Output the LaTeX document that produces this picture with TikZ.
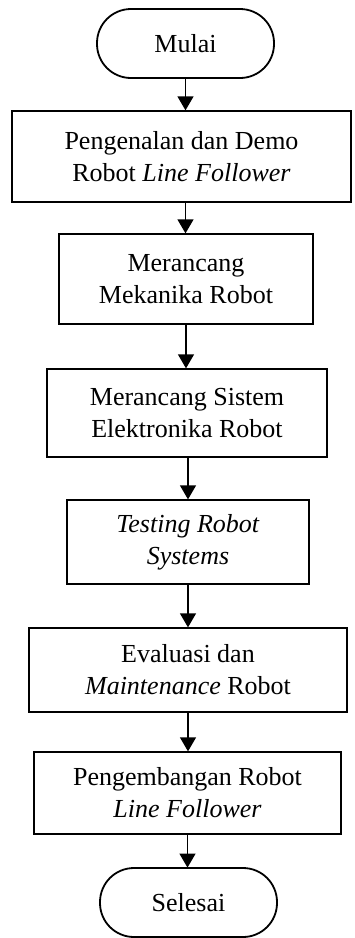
\documentclass[tikz,border=0pt]{standalone}
\usepackage{fontspec}
\setmainfont{Liberation Serif}
\usetikzlibrary{arrows.meta}
\begin{document}
\begin{tikzpicture}[x=1pt,y=-1pt,
  every node/.style={font=\fontsize{26}{32}\selectfont, align=center, inner sep=0pt},
  procbox/.style={draw, line width=2.3pt, rectangle},
  termbox/.style={draw, line width=1.8pt, rectangle, rounded corners=34pt, minimum width=177pt, minimum height=69pt},
  flow/.style={line width=1.3pt, -{Triangle[length=14pt,width=16pt]}, shorten >=-0.5pt}
]
\useasboundingbox (0,0) rectangle (354,938);
\node[termbox] (start) at (185.5,43.5) {Mulai};
\node[procbox, minimum width=339pt, minimum height=91pt] (b1) at (181.5,156.5) {Pengenalan dan Demo\\Robot \textit{Line Follower}};
\node[procbox, minimum width=254pt, minimum height=90pt] (b2) at (186,279) {Merancang\\Mekanika Robot};
\node[procbox, minimum width=280pt, minimum height=88pt] (b3) at (187,413) {Merancang Sistem\\Elektronika Robot};
\node[procbox, minimum width=242pt, minimum height=84pt] (b4) at (188,542) {\textit{Testing Robot}\\\textit{Systems}};
\node[procbox, minimum width=318pt, minimum height=84pt] (b5) at (188,670) {Evaluasi dan\\\textit{Maintenance} Robot};
\node[procbox, minimum width=307pt, minimum height=82pt] (b6) at (187.5,793) {Pengembangan Robot\\\textit{Line Follower}};
\node[termbox] (stop) at (188.5,902.5) {Selesai};
\draw[flow] (start.south) -- (start.south |- b1.north);
\draw[flow] ([xshift=4pt]b1.south) -- ([xshift=4pt]b1.south |- b2.north);
\draw[flow] (b2.south) -- (b2.south |- b3.north);
\draw[flow] ([xshift=1pt]b3.south) -- ([xshift=1pt]b3.south |- b4.north);
\draw[flow] (b4.south) -- (b4.south |- b5.north);
\draw[flow] (b5.south) -- (b5.south |- b6.north);
\draw[flow] (b6.south) -- (b6.south |- stop.north);
\end{tikzpicture}
\end{document}
